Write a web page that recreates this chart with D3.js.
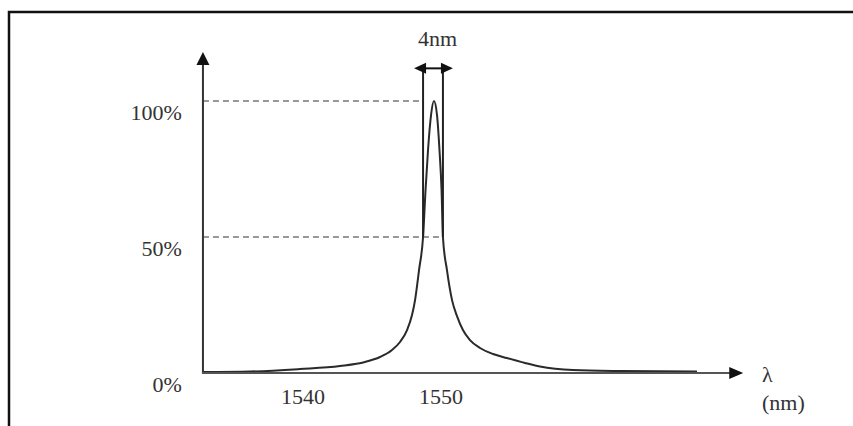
<!DOCTYPE html>
<html>
<head>
<meta charset="utf-8">
<script src="https://cdn.jsdelivr.net/npm/d3@7"></script>
<style>
  body { margin: 0; background: #fff; }
  svg { display: block; }
  text { font-family: "Liberation Serif", "DejaVu Serif", serif; fill: #333; }
</style>
</head>
<body>
<div id="chart"></div>
<script>
// spectrum: wavelength (nm) and transmission (%)
const curveNm = [1532.75, 1536.16, 1539.78, 1542.68, 1544.49, 1545.58, 1546.45, 1547.03, 1547.54, 1547.9,
  1548.12, 1548.41, 1548.7, 1548.88, 1549.06, 1549.28, 1549.49, 1549.71, 1549.89, 1550.04,
  1550.14, 1550.43, 1550.8, 1551.16, 1551.59, 1552.1, 1552.83, 1553.77, 1554.78, 1556.09,
  1557.17, 1559.57, 1562.97, 1568.55];
const curvePct = [0.37, 0.55, 1.47, 2.57, 4.04, 5.88, 8.46, 11.4, 15.8, 21.3,
  26.8, 37.9, 50, 67.3, 82, 94.9, 100, 94.9, 82, 67.3,
  50, 37.9, 26.8, 20.9, 15.8, 12.1, 9.19, 7.0, 5.5, 3.68,
  2.39, 1.1, 0.74, 0.55];

const yTicks = [0, 50, 100];
const yTickLabels = ['0%', '50%', '100%'];
const xTicks = [1540, 1550];
const xTickLabels = ['1540', '1550'];
const dashLevels = [100, 50];
const dashEnds = [1548.7, 1550.14];
const fwhmBounds = [1548.7, 1550.14];
const fwhmLabel = '4nm';
const arrowLevel = 112;
const xRange = [1532.75, 1571.9];
const yTop = 118;

const width = 853, height = 426;
const x = d3.scaleLinear().domain([1540, 1550]).range([303, 441]);
const y = d3.scaleLinear().domain([0, 100]).range([373, 101]);

const svg = d3.select('#chart').append('svg')
  .attr('width', width)
  .attr('height', height);

// frame (only top and left edges show)
svg.append('path')
  .attr('d', `M9,${height}V12H${width}`)
  .attr('fill', 'none')
  .attr('stroke', '#111')
  .attr('stroke-width', 2.5);

const x0 = x(xRange[0]);
const yAxisY = y(0);

// dashed guide lines
svg.selectAll('line.dash')
  .data(dashLevels)
  .enter().append('line')
  .attr('class', 'dash')
  .attr('x1', x0)
  .attr('x2', (d, i) => x(dashEnds[i]))
  .attr('y1', d => y(d))
  .attr('y2', d => y(d))
  .attr('stroke', '#777')
  .attr('stroke-width', 1.6)
  .attr('stroke-dasharray', '6,4');

// the curve
const line = d3.line()
  .x(d => x(d[0]))
  .y(d => y(d[1]))
  .curve(d3.curveMonotoneX);
svg.append('path')
  .datum(curveNm.map((v, i) => [v, curvePct[i]]))
  .attr('d', line)
  .attr('fill', 'none')
  .attr('stroke', '#2a2a2a')
  .attr('stroke-width', 2);

// vertical FWHM markers
svg.selectAll('line.fwhm')
  .data(fwhmBounds)
  .enter().append('line')
  .attr('class', 'fwhm')
  .attr('x1', d => x(d))
  .attr('x2', d => x(d))
  .attr('y1', y(arrowLevel))
  .attr('y2', y(50))
  .attr('stroke', '#222')
  .attr('stroke-width', 2);

// axes
svg.append('line')
  .attr('x1', x0).attr('x2', x0)
  .attr('y1', yAxisY).attr('y2', y(yTop) + 10)
  .attr('stroke', '#333').attr('stroke-width', 2);
svg.append('line')
  .attr('x1', x0 - 1).attr('x2', x(xRange[1]) - 10)
  .attr('y1', yAxisY).attr('y2', yAxisY)
  .attr('stroke', '#555').attr('stroke-width', 1.8);

function arrowHead(tx, ty, dir, len, half) {
  // dir: 'up', 'right', 'left'
  let pts;
  if (dir === 'up') pts = [[tx, ty], [tx - half, ty + len], [tx + half, ty + len]];
  else if (dir === 'right') pts = [[tx, ty], [tx - len, ty - half], [tx - len, ty + half]];
  else pts = [[tx, ty], [tx + len, ty - half], [tx + len, ty + half]];
  svg.append('path')
    .attr('d', 'M' + pts.join('L') + 'Z')
    .attr('fill', '#111');
}
arrowHead(x0, y(yTop), 'up', 13, 6.5);
arrowHead(x(xRange[1]), yAxisY, 'right', 14, 6);

// double arrow over the peak
const ay = y(arrowLevel);
const aL = x(fwhmBounds[0]) - 9, aR = x(fwhmBounds[1]) + 10;
svg.append('line')
  .attr('x1', aL + 8).attr('x2', aR - 8)
  .attr('y1', ay).attr('y2', ay)
  .attr('stroke', '#111').attr('stroke-width', 2);
arrowHead(aL, ay, 'left', 12, 5.5);
arrowHead(aR, ay, 'right', 12, 5.5);

svg.append('text')
  .attr('x', (aL + aR) / 2 + 4)
  .attr('y', ay - 22)
  .attr('text-anchor', 'middle')
  .attr('font-size', '22px')
  .text(fwhmLabel);

// tick labels
svg.selectAll('text.ylab')
  .data(yTicks)
  .enter().append('text')
  .attr('class', 'ylab')
  .attr('x', x0 - 21)
  .attr('y', d => y(d) + 19)
  .attr('text-anchor', 'end')
  .attr('font-size', '22px')
  .text((d, i) => yTickLabels[i]);

svg.selectAll('text.xlab')
  .data(xTicks)
  .enter().append('text')
  .attr('class', 'xlab')
  .attr('x', d => x(d))
  .attr('y', yAxisY + 31)
  .attr('text-anchor', 'middle')
  .attr('font-size', '22px')
  .text((d, i) => xTickLabels[i]);

// axis title
svg.append('text')
  .attr('x', 762).attr('y', yAxisY + 9)
  .attr('font-size', '22px')
  .text('λ');
svg.append('text')
  .attr('x', 762).attr('y', yAxisY + 37)
  .attr('font-size', '22px')
  .text('(nm)');
</script>
</body>
</html>
